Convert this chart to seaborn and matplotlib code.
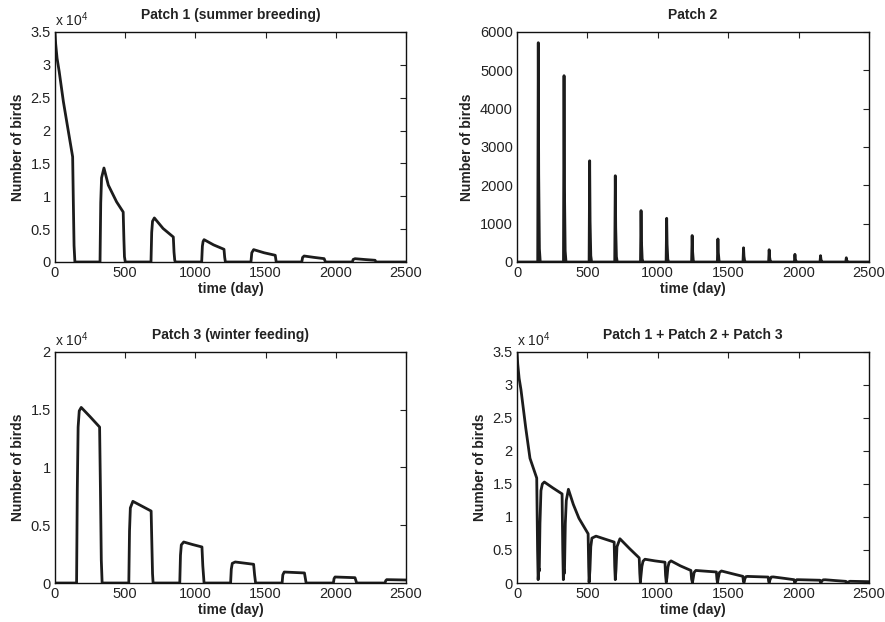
import numpy as np
import pandas as pd
import seaborn as sns
import matplotlib
matplotlib.use("Agg")
import matplotlib.pyplot as plt
from matplotlib.ticker import FuncFormatter

# Patch 1 (summer breeding): time (day), birds
p1_t = [0, 5, 15, 30, 60, 85, 126, 131, 136, 142,
        321, 326, 332, 349, 380, 439, 486, 491, 495, 501,
        684, 689, 695, 708, 770, 843, 848, 853, 857,
        1045, 1050, 1055, 1062, 1130, 1204, 1209, 1214,
        1396, 1402, 1415, 1490, 1569, 1576,
        1758, 1764, 1775, 1845, 1917, 1927,
        2118, 2124, 2137, 2210, 2280, 2287, 2500]
p1_n = [35000, 33200, 31000, 29000, 24400, 21200, 16000, 9000, 2500, 0,
        0, 9000, 12800, 14300, 11700, 9150, 7600, 3500, 800, 0,
        0, 4500, 6200, 6700, 5100, 3800, 1500, 300, 0,
        0, 2400, 3100, 3400, 2600, 1930, 700, 0,
        0, 1400, 1880, 1400, 1020, 0,
        0, 700, 910, 700, 510, 0,
        0, 380, 500, 370, 260, 0, 0]

# Patch 2 (stopover): short spikes at each migration
p2_t = [0,
        147, 151, 154, 159, 165,
        330, 334, 337, 342, 348,
        512, 516, 519, 524, 530,
        694, 698, 701, 706, 712,
        877, 881, 884, 889, 895,
        1059, 1063, 1066, 1071, 1077,
        1240, 1244, 1247, 1252, 1258,
        1423, 1427, 1430, 1435, 1441,
        1605, 1609, 1612, 1617, 1623,
        1787, 1791, 1794, 1799, 1805,
        1970, 1974, 1977, 1982, 1988,
        2152, 2156, 2159, 2164, 2170,
        2335, 2339, 2342, 2347, 2353,
        2500]
p2_n = [0,
        0, 5720, 2290, 340, 0,
        0, 4860, 1940, 290, 0,
        0, 2640, 1060, 160, 0,
        0, 2250, 900, 135, 0,
        0, 1340, 540, 80, 0,
        0, 1140, 460, 70, 0,
        0, 690, 280, 40, 0,
        0, 600, 240, 36, 0,
        0, 370, 150, 22, 0,
        0, 320, 130, 19, 0,
        0, 200, 80, 12, 0,
        0, 165, 66, 10, 0,
        0, 110, 44, 7, 0,
        0]

# Patch 3 (winter feeding)
p3_t = [0, 154, 159, 165, 173, 187, 250, 318, 324, 330, 336,
        526, 531, 537, 555, 620, 685, 690, 695, 699,
        889, 894, 900, 917, 980, 1047, 1053, 1062,
        1251, 1256, 1263, 1284, 1415, 1422, 1429,
        1618, 1623, 1633, 1777, 1789,
        1983, 1988, 1995, 2137, 2149,
        2351, 2356, 2363, 2500]
p3_n = [0, 0, 8000, 13500, 14900, 15200, 14400, 13500, 8000, 2000, 0,
        0, 4500, 6500, 7070, 6650, 6230, 3500, 800, 0,
        0, 2400, 3300, 3550, 3330, 3120, 1500, 0,
        0, 1200, 1700, 1820, 1620, 700, 0,
        0, 700, 950, 870, 0,
        0, 380, 520, 460, 0,
        0, 200, 290, 260]

# Patch 1 + Patch 2 + Patch 3
tot_t = [0, 5, 15, 28, 62, 92, 140, 146, 150, 155, 158, 163, 170, 180, 194, 255, 320,
         325, 329, 334, 337, 343, 350, 365, 400, 440, 505,
         509, 512, 518, 524, 532, 561, 625, 690,
         694, 698, 703, 710, 731, 800, 868,
         872, 876, 880, 887, 895, 909, 980, 1051,
         1055, 1060, 1065, 1072, 1080, 1094, 1160, 1235,
         1240, 1246, 1252, 1258, 1270, 1345, 1416,
         1420, 1424, 1430, 1438, 1452, 1530, 1604,
         1608, 1612, 1618, 1625, 1636, 1784,
         1787, 1791, 1797, 1806, 1820, 1900, 1968,
         1971, 1974, 1980, 1987, 2000, 2152,
         2155, 2159, 2165, 2175, 2190, 2260, 2336,
         2340, 2346, 2352, 2365, 2500]
tot_n = [35000, 33200, 31000, 29300, 23500, 18900, 15900, 5000, 500, 2200, 1800, 9000, 14000, 15000, 15300, 14400, 13500,
         5000, 500, 2000, 1500, 9000, 12500, 14200, 11900, 9800, 7460,
         2500, 100, 2000, 5500, 6800, 7100, 6650, 6200,
         2500, 500, 2000, 5500, 6700, 5200, 3800,
         1500, 100, 1000, 2500, 3300, 3600, 3350, 3150,
         1200, 100, 800, 2400, 3100, 3350, 2600, 1900,
         600, 50, 800, 1600, 1900, 1780, 1670,
         600, 50, 800, 1600, 1820, 1400, 1010,
         300, 50, 600, 950, 1000, 900,
         300, 30, 500, 900, 920, 700, 500,
         150, 20, 300, 500, 500, 420,
         150, 20, 300, 480, 490, 370, 250,
         80, 20, 150, 260, 200]

titles = ["Patch 1 (summer breeding)", "Patch 2",
          "Patch 3 (winter feeding)", "Patch 1 + Patch 2 + Patch 3"]
ymax = [35000, 6000, 20000, 35000]
scaled = [True, False, True, True]

sns.set_theme(style="white")
plt.rcParams["font.family"] = ["Liberation Sans", "DejaVu Sans"]
plt.rcParams["mathtext.fontset"] = "custom"
plt.rcParams["mathtext.rm"] = "Liberation Sans"

fig = plt.figure(figsize=(8.85, 6.22), dpi=100)
boxes = [[0.0621, 0.5788, 0.3966, 0.3698], [0.5842, 0.5788, 0.3977, 0.3698],
         [0.0621, 0.0627, 0.3966, 0.3714], [0.5842, 0.0627, 0.3977, 0.3714]]
series = [(p1_t, p1_n), (p2_t, p2_n), (p3_t, p3_n), (tot_t, tot_n)]

for i, (t, n) in enumerate(series):
    ax = fig.add_axes(boxes[i])
    df = pd.DataFrame({"time": t, "birds": n})
    sns.lineplot(data=df, x="time", y="birds", ax=ax, color="#1c1c1c",
                 linewidth=2.0, estimator=None, sort=False)
    ax.set_xlim(0, 2500)
    ax.set_ylim(0, ymax[i])
    ax.set_xticks(range(0, 2501, 500))
    if scaled[i]:
        ax.set_yticks(np.arange(0, ymax[i] + 1, 5000))
        ax.yaxis.set_major_formatter(FuncFormatter(lambda v, pos: f"{v / 1e4:g}"))
        ax.text(0.0, 1.012, r"x 10$^{4}$", transform=ax.transAxes,
                fontsize=10, ha="left", va="bottom", color="#222222")
    else:
        ax.set_yticks(range(0, ymax[i] + 1, 1000))
    ax.tick_params(direction="in", length=4, width=0.8, top=True, right=True,
                   labelsize=10.5, colors="#222222", pad=3)
    for s in ax.spines.values():
        s.set_linewidth(1.0)
        s.set_color("#111111")
    ax.set_title(titles[i], fontsize=10, fontweight="bold", pad=9, color="#222222")
    ax.set_xlabel("time (day)", fontsize=10, fontweight="bold", labelpad=1, color="#222222")
    ax.set_ylabel("Number of birds", fontsize=10, fontweight="bold", labelpad=4, color="#222222")

fig.savefig("out.png", dpi=100)
